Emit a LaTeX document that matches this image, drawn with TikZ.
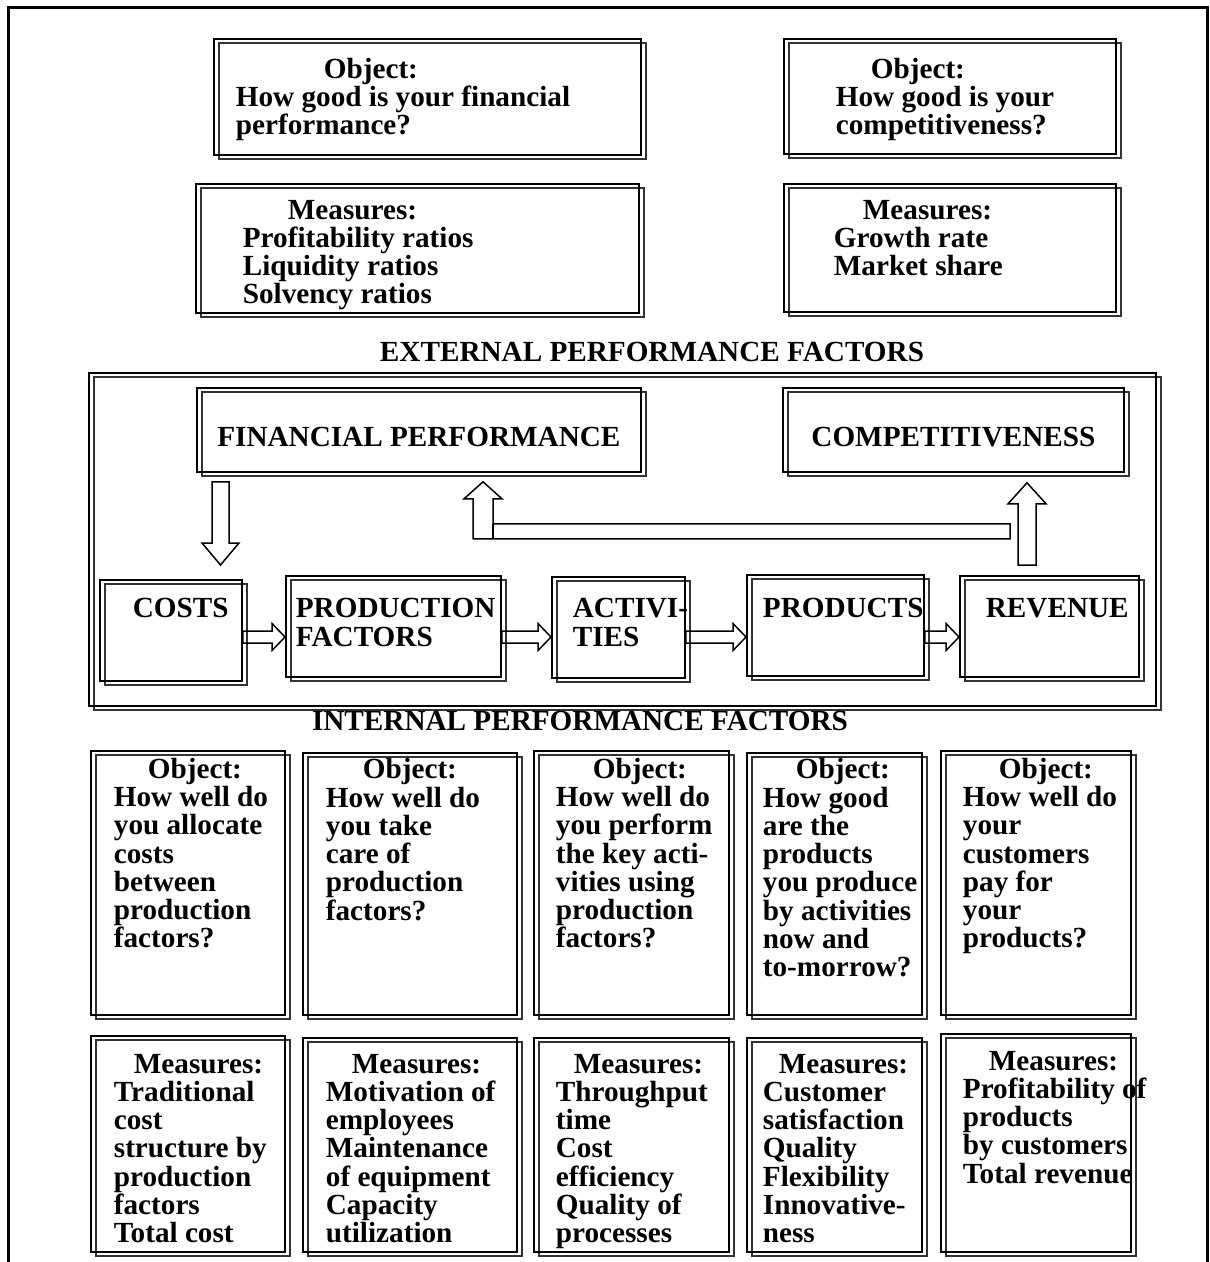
\documentclass[tikz,border=0pt]{standalone}
\usepackage{fontspec}
\setmainfont{Liberation Serif}
\usetikzlibrary{calc}

% fixed-size text block, top aligned, lines never wrapped
\newcommand{\boxtxt}[3]{\parbox[c][#2][t]{#1}{\noindent\rlap{\parbox[t]{300pt}{#3}}}}

\begin{document}
\begin{tikzpicture}[x=0.5pt, y=-0.5pt,
  every node/.style={font=\bfseries\fontsize{14.6}{14.15}\selectfont},
  panel/.style={draw, line width=.9pt, anchor=north west,
    preaction={draw, line width=.8pt, black!80, transform canvas={shift={(2.5pt,-2pt)}}}},
  blockarrow/.style n args={3}{line width=.75pt, to path={
    ($(\tikztostart)!#1!90:(\tikztotarget)$)
    -- ($(\tikztotarget)!#3!(\tikztostart)!#1!90:(\tikztotarget)$)
    -- ($(\tikztotarget)!#3!(\tikztostart)!#2!90:(\tikztotarget)$)
    -- (\tikztotarget)
    -- ($(\tikztotarget)!#3!(\tikztostart)!#2!-90:(\tikztotarget)$)
    -- ($(\tikztotarget)!#3!(\tikztostart)!#1!-90:(\tikztotarget)$)
    -- ($(\tikztostart)!#1!-90:(\tikztotarget)$) -- cycle}},
]
\useasboundingbox (0,0) rectangle (1209,1262);
\draw[line width=1.5pt] (8.5,1270) -- (8.5,7.5) -- (1207,7.5) -- (1207,1270);

% external level
\node[panel, inner xsep=11pt, inner ysep=9.5pt] (objfin) at (213,38)
  {\boxtxt{191.5pt}{39pt}{\hspace*{44pt}Object:\\How good is your financial\\performance?}};
\node[panel, inner xsep=26pt, inner ysep=9.5pt] (objcomp) at (783,38)
  {\boxtxt{114pt}{38.5pt}{\hspace*{17.5pt}Object:\\How good is your\\competitiveness?}};
\node[panel, inner xsep=23.5pt, inner ysep=8pt] (mfin) at (195,183)
  {\boxtxt{174.5pt}{48.5pt}{\hspace*{22.5pt}Measures:\\Profitability ratios\\Liquidity ratios\\Solvency ratios}};
\node[panel, inner xsep=25pt, inner ysep=8pt] (mcomp) at (783,183)
  {\boxtxt{116pt}{48pt}{\hspace*{14.5pt}Measures:\\Growth rate\\Market share}};
\node (ext) at (652,352) {EXTERNAL PERFORMANCE FACTORS};

% the chain
\node[panel, minimum width=533.5pt, minimum height=166.5pt, inner sep=0pt] (core) at (88,372) {};
\node[panel, minimum width=222pt, minimum height=42pt, text height=16.7pt] (fin) at (196,387) {FINANCIAL PERFORMANCE};
\node[panel, minimum width=170.5pt, minimum height=42pt, text height=16.7pt] (comp) at (782,387) {COMPETITIVENESS};
\node[panel, inner xsep=16.5pt, inner ysep=9.3pt] (cost) at (99,579) {\boxtxt{38pt}{31.9pt}{COSTS}};
\node[panel, inner xsep=5pt, inner ysep=11.3pt] (prod) at (285,575) {\boxtxt{97.5pt}{27.9pt}{PRODUCTION\\FACTORS}};
\node[panel, inner xsep=10.5pt, inner ysep=10.8pt] (act) at (551,576) {\boxtxt{45.5pt}{28.9pt}{ACTIVI-\\TIES}};
\node[panel, inner xsep=8pt, inner ysep=11.8pt] (prods) at (746,574) {\boxtxt{72.5pt}{26.9pt}{PRODUCTS}};
\node[panel, inner xsep=13pt, inner ysep=11.3pt] (rev) at (959,575) {\boxtxt{63.5pt}{27.9pt}{REVENUE}};

\coordinate (flowy) at (0,637);
\draw[blockarrow={3pt}{6.75pt}{6.5pt}] (cost.east |- flowy) to (prod.west |- flowy);
\draw[blockarrow={3pt}{6.75pt}{6.5pt}] (prod.east |- flowy) to (act.west |- flowy);
\draw[blockarrow={3pt}{6.75pt}{6.5pt}] (act.east |- flowy) to (prods.west |- flowy);
\draw[blockarrow={3pt}{6.75pt}{6.5pt}] (prods.east |- flowy) to (rev.west |- flowy);

\coordinate (dnx) at (220.5,0);
\coordinate (dtop) at ($(fin.south -| dnx)+(0,9)$);
\coordinate (dtip) at ($(cost.north -| dnx)+(0,-14)$);
\draw[blockarrow={4.25pt}{9.25pt}{11pt}] (dtop) to (dtip);

\coordinate (upx) at (1027,0);
\coordinate (rtail) at ($(rev.north -| upx)+(0,-10)$);
\coordinate (rtip) at ($(comp.south -| upx)+(0,10)$);
\draw[blockarrow={4.5pt}{9.5pt}{10.5pt}] (rtail) to (rtip);

% feedback bar into financial performance
\coordinate (fbx) at (483,0);
\draw[line width=.75pt] (fin.south -| fbx) ++(0,9) -- ++(19,17) -- ++(-9,0) -- ++(0,25)
  -- ++(517,0) -- ++(0,15) -- ++(-537,0) -- ++(0,-40) -- ++(-9,0) -- cycle;
\draw[line width=.75pt] (fin.south -| fbx) ++(10,51) -- ++(0,15);

\node (int) at (580,721) {INTERNAL PERFORMANCE FACTORS};

% internal level: objects
\node[panel, inner xsep=11.5pt, inner ysep=3.5pt] (ocost) at (90,750)
  {\boxtxt{74pt}{125pt}{\hspace*{17pt}Object:\\How well do\\you allocate\\costs\\between\\production\\factors?}};
\node[panel, inner xsep=11.5pt, inner ysep=2.8pt] (oprod) at (302,752)
  {\boxtxt{84pt}{125.4pt}{\hspace*{18.5pt}Object:\\How well do\\you take\\care of\\production\\factors?}};
\node[panel, inner xsep=11pt, inner ysep=3.5pt] (oact) at (533,750)
  {\boxtxt{75.5pt}{125pt}{\hspace*{18.5pt}Object:\\How well do\\you perform\\the key acti-\\vities using\\production\\factors?}};
\node[panel, inner xsep=8pt, inner ysep=2.8pt] (oprods) at (746,752)
  {\boxtxt{71.5pt}{125.4pt}{\hspace*{16.5pt}Object:\\How good\\are the\\products\\you produce\\by activities\\now and\\to-morrow?}};
\node[panel, inner xsep=11pt, inner ysep=3.5pt] (orev) at (940,750)
  {\boxtxt{73pt}{125pt}{\hspace*{18pt}Object:\\How well do\\your\\customers\\pay for\\your\\products?}};

% internal level: measures
\node[panel, inner xsep=11.5pt, inner ysep=9pt] (mcost) at (90,1035)
  {\boxtxt{74pt}{90pt}{\hspace*{10pt}Measures:\\Traditional\\cost\\structure by\\production\\factors\\Total cost}};
\node[panel, inner xsep=11.5pt, inner ysep=8pt] (mprod) at (302,1037)
  {\boxtxt{84pt}{91pt}{\hspace*{13pt}Measures:\\Motivation of\\employees\\Maintenance\\of equipment\\Capacity\\utilization}};
\node[panel, inner xsep=11pt, inner ysep=8pt] (mact) at (533,1037)
  {\boxtxt{75.5pt}{91pt}{\hspace*{9pt}Measures:\\Throughput\\time\\Cost\\efficiency\\Quality of\\processes}};
\node[panel, inner xsep=8pt, inner ysep=8pt] (mprods) at (746,1037)
  {\boxtxt{71.5pt}{91pt}{\hspace*{8pt}Measures:\\Customer\\satisfaction\\Quality\\Flexibility\\Innovative-\\ness}};
\node[panel, inner xsep=11pt, inner ysep=8.5pt] (mrev) at (940,1033)
  {\boxtxt{73pt}{92pt}{\hspace*{13pt}Measures:\\Profitability of\\products\\by customers\\Total revenue}};
\end{tikzpicture}
\end{document}
